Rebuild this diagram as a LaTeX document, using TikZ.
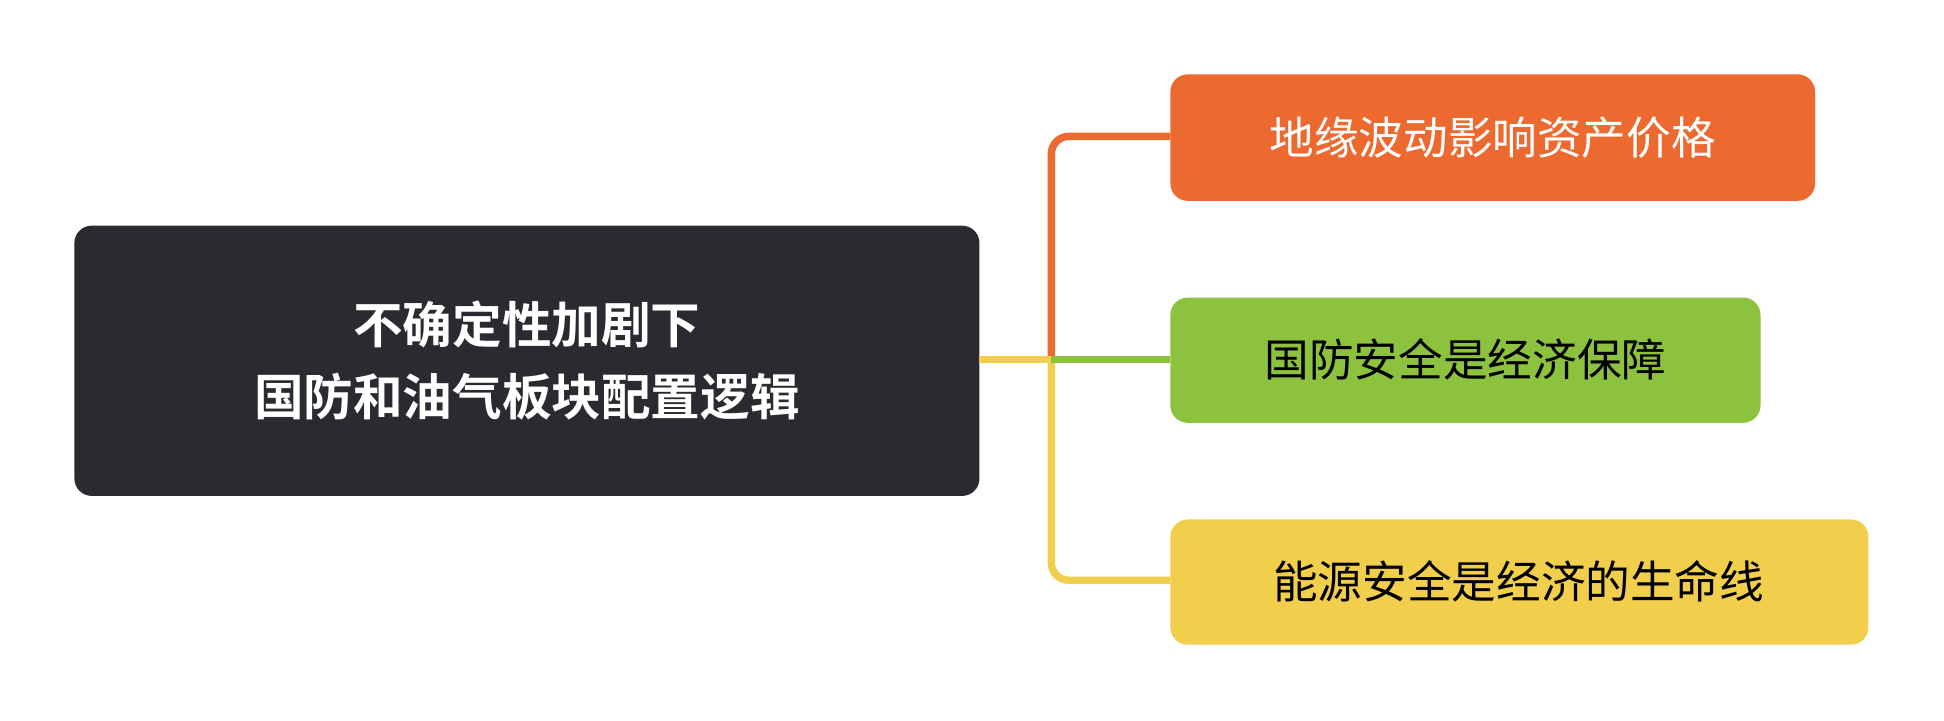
\documentclass[tikz,border=0pt]{standalone}
\usepackage{fontspec}
\newfontfamily\cjk{Noto Sans CJK SC}
\newfontfamily\cjkb{Noto Sans CJK SC Bold}
\begin{document}
\begin{tikzpicture}[x=1pt,y=-1pt,
  box/.style={rounded corners=14pt,inner sep=0pt},
  conn/.style={line width=6pt,rounded corners=14pt}]
\definecolor{dk}{HTML}{2A2B30}
\definecolor{og}{HTML}{EC6A30}
\definecolor{gr}{HTML}{8DC23E}
\definecolor{yl}{HTML}{F1CE4C}
\useasboundingbox (0,0) rectangle (1568,581);
\fill[dk,box] (60,182) rectangle (790,400);
\node[text=white,align=center,font=\cjkb\fontsize{40}{58}\selectfont] (main) at (425,291) {不确定性加剧下\\国防和油气板块配置逻辑};
\fill[og,box] (944,60) rectangle (1464,162);
\node[text=white,font=\cjk\fontsize{36}{40}\selectfont] (a) at (1204,111) {地缘波动影响资产价格};
\fill[gr,box] (944,240) rectangle (1420,341);
\node[text=black,font=\cjk\fontsize{36}{40}\selectfont] (b) at (1182,290) {国防安全是经济保障};
\fill[yl,box] (944,419) rectangle (1507,520);
\node[text=black,font=\cjk\fontsize{36}{40}\selectfont] (c) at (1225,469) {能源安全是经济的生命线};
\coordinate (s) at (790,290);
\coordinate (t) at (848,290);
\draw[conn,og] (t) -- (848,110) -- (944,110);
\draw[conn,yl] (t) -- (848,468) -- (944,468);
\draw[conn,gr] (t) -- (944,290);
\draw[conn,yl] (s) -- (t);
\end{tikzpicture}
\end{document}
